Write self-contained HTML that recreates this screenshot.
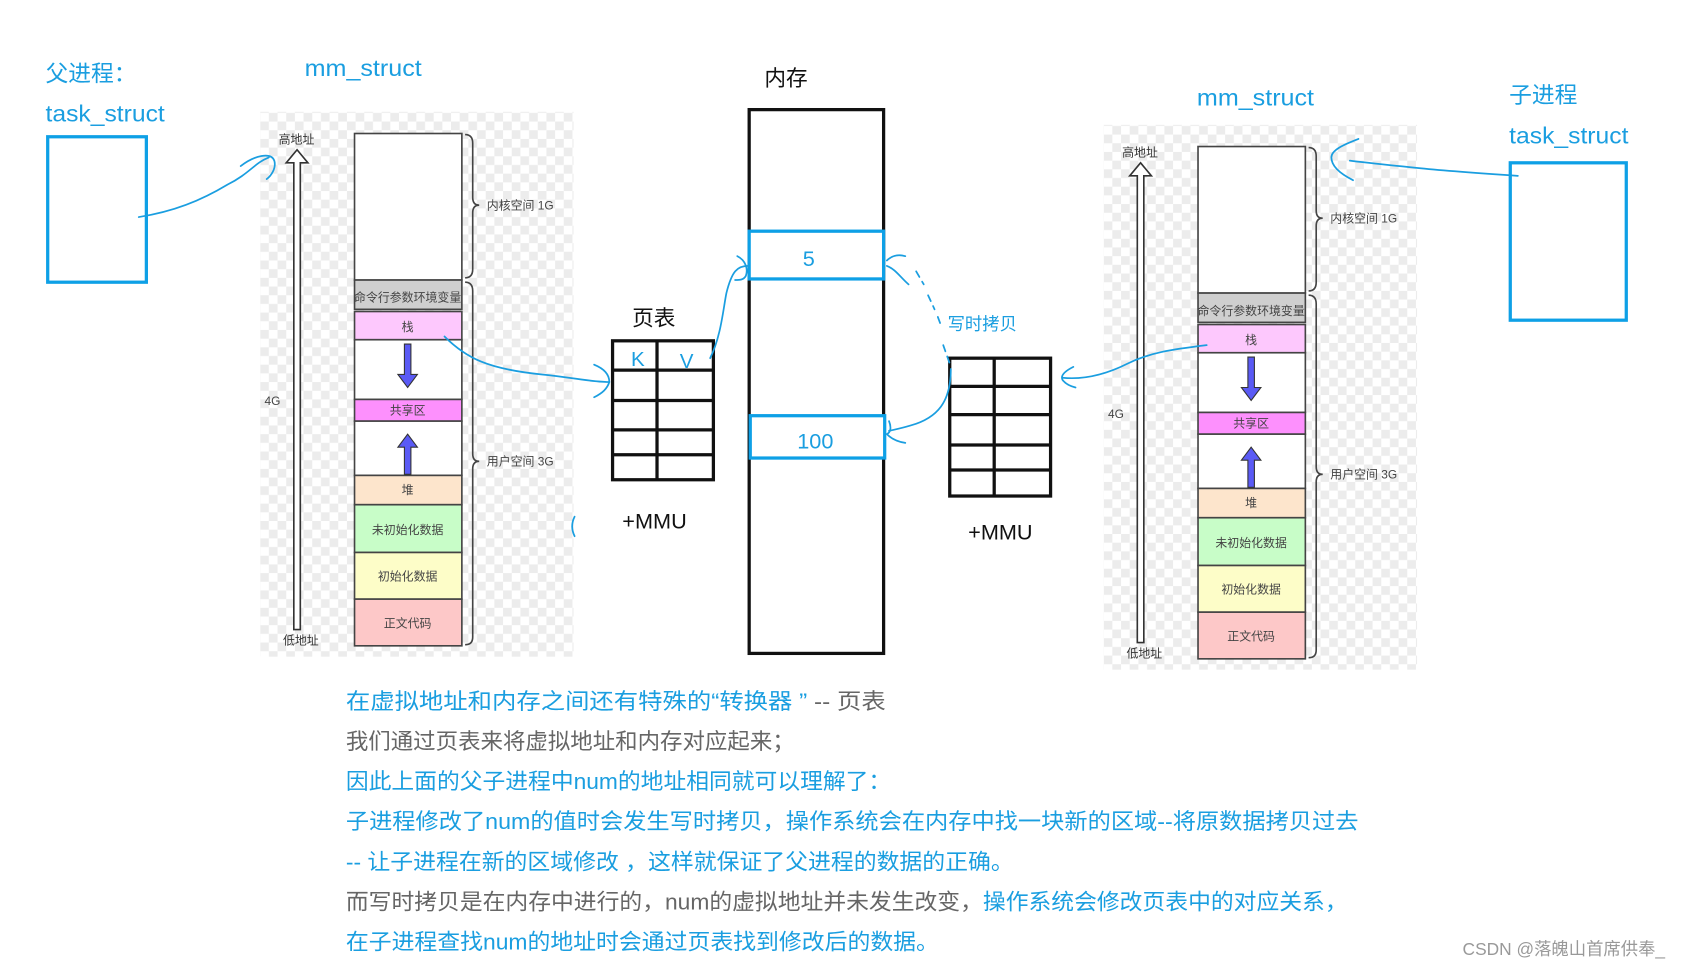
<!DOCTYPE html>
<html><head><meta charset="utf-8"><style>
html,body{margin:0;padding:0;background:#fff;}
svg{display:block;}
text{font-family:"Liberation Sans","Noto Sans CJK SC",sans-serif;}
</style></head><body>
<svg width="1700" height="966" viewBox="0 0 1568 890" preserveAspectRatio="none" xmlns="http://www.w3.org/2000/svg">
<defs>
<pattern id="chk" x="0" y="0" width="16" height="16" patternUnits="userSpaceOnUse">
<rect width="16" height="16" fill="#fff"/><rect width="8" height="8" fill="#ececec"/><rect x="8" y="8" width="8" height="8" fill="#ececec"/>
</pattern>
<g id="mm">
<rect x="240" y="103" width="289" height="502" fill="url(#chk)"/>
<path d="M271 580 L271 150 L264 150 L274 138 L284 150 L277 150 L277 580 Z" fill="#fff" stroke="#333" stroke-width="1.5"/>
<text x="257" y="132" font-size="11" fill="#333">高地址</text>
<text x="244" y="373" font-size="11" fill="#444">4G</text>
<text x="261" y="594" font-size="11" fill="#333">低地址</text>
<g stroke="#444" stroke-width="1.5">
<rect x="327" y="123" width="99" height="135" fill="#fff"/>
<rect x="327" y="258" width="99" height="27" fill="#cfcfcf"/>
<rect x="327" y="287" width="99" height="26" fill="#fdc8fd"/>
<rect x="327" y="313" width="99" height="55" fill="#fff"/>
<rect x="327" y="368" width="99" height="20" fill="#fd90fd"/>
<rect x="327" y="388" width="99" height="50" fill="#fff"/>
<rect x="327" y="438" width="99" height="27" fill="#fde5cc"/>
<rect x="327" y="465" width="99" height="44" fill="#c8fdc8"/>
<rect x="327" y="509" width="99" height="43" fill="#fdfdc8"/>
<rect x="327" y="552" width="99" height="43" fill="#fdc8c8"/>
</g>
<g font-size="11" fill="#444" text-anchor="middle">
<text x="376" y="278">命令行参数环境变量</text>
<text x="376" y="305">栈</text>
<text x="376" y="382">共享区</text>
<text x="376" y="455">堆</text>
<text x="376" y="492">未初始化数据</text>
<text x="376" y="535">初始化数据</text>
<text x="376" y="578">正文代码</text>
</g>
<path d="M373 317 L379 317 L379 345 L385 345 L376 357 L367 345 L373 345 Z" fill="#5a5af5" stroke="#333" stroke-width="1"/>
<path d="M373 437 L379 437 L379 412 L385 412 L376 400 L367 412 L373 412 Z" fill="#5a5af5" stroke="#333" stroke-width="1"/>
<g fill="none" stroke="#444" stroke-width="1.5">
<path d="M429 124 Q436 124 436 132 L436 182 Q436 189 442 189 Q436 189 436 196 L436 248 Q436 256 429 256"/>
<path d="M429 260 Q436 260 436 268 L436 418 Q436 425 442 425 Q436 425 436 432 L436 587 Q436 594 429 594"/>
</g>
<text x="449" y="193" font-size="11" fill="#444">内核空间 1G</text>
<text x="449" y="429" font-size="11" fill="#444">用户空间 3G</text>
</g>
</defs>

<use href="#mm"/>
<use href="#mm" transform="translate(778,12)"/>

<g fill="#1a9ee0" font-size="21">
<text x="42" y="75">父进程：</text>
<text x="42" y="112" textLength="110" lengthAdjust="spacingAndGlyphs">task_struct</text>
<text x="281" y="70" textLength="108" lengthAdjust="spacingAndGlyphs">mm_struct</text>
<text x="1104" y="97" textLength="108" lengthAdjust="spacingAndGlyphs">mm_struct</text>
<text x="1392" y="95">子进程</text>
<text x="1392" y="132" textLength="110" lengthAdjust="spacingAndGlyphs">task_struct</text>
</g>
<rect x="44" y="126" width="91" height="134" fill="none" stroke="#0ea0e6" stroke-width="3"/>
<rect x="1393" y="150" width="107" height="145" fill="none" stroke="#0ea0e6" stroke-width="3"/>

<text x="705" y="79" font-size="20" fill="#111">内存</text>
<rect x="691" y="101" width="124" height="501" fill="#fff" stroke="#111" stroke-width="3"/>
<rect x="691" y="213" width="124" height="44" fill="#fff" stroke="#0ea0e6" stroke-width="3"/>
<text x="746" y="245" font-size="20" fill="#1a9ee0" text-anchor="middle">5</text>
<rect x="692" y="383" width="124" height="39" fill="#fff" stroke="#0ea0e6" stroke-width="3"/>
<text x="752" y="413" font-size="20" fill="#1a9ee0" text-anchor="middle">100</text>

<text x="583" y="300" font-size="20" fill="#111">页表</text>
<g fill="none" stroke="#111" stroke-width="3">
<rect x="565" y="314" width="93" height="128"/>
<line x1="606" y1="314" x2="606" y2="442"/>
<line x1="565" y1="341" x2="658" y2="341"/>
<line x1="565" y1="369" x2="658" y2="369"/>
<line x1="565" y1="396" x2="658" y2="396"/>
<line x1="565" y1="419" x2="658" y2="419"/>
</g>
<text x="582" y="337" font-size="19" fill="#1a9ee0">K</text>
<text x="627" y="339" font-size="19" fill="#1a9ee0">V</text>
<text x="574" y="487" font-size="20" fill="#111">+MMU</text>

<g fill="none" stroke="#111" stroke-width="3">
<rect x="876" y="330" width="93" height="127"/>
<line x1="917" y1="330" x2="917" y2="457"/>
<line x1="876" y1="356" x2="969" y2="356"/>
<line x1="876" y1="382" x2="969" y2="382"/>
<line x1="876" y1="410" x2="969" y2="410"/>
<line x1="876" y1="433" x2="969" y2="433"/>
</g>
<text x="893" y="497" font-size="20" fill="#111">+MMU</text>
<text x="874" y="304" font-size="16" fill="#1a9ee0">写时拷贝</text>

<g fill="none" stroke="#1a9ee0" stroke-width="1.6" stroke-linecap="round">
<path d="M128 200 C160 195 185 185 210 170 C230 160 235 150 248 145"/>
<path d="M222 153 C235 143 250 140 253 148 C255 155 250 162 246 165"/>
<path d="M410 310 C430 330 450 340 500 345 C530 348 545 352 562 352"/>
<path d="M548 336 C558 340 562 346 562 352 C560 358 556 362 548 366"/>
<path d="M530 476 C527 482 527 488 530 494"/>
<path d="M655 330 C665 310 667 285 670 270 C675 250 680 245 690 245"/>
<path d="M680 236 C688 240 690 248 688 254 C686 258 682 258 678 258"/>
<path d="M818 245 C826 248 830 255 838 262"/>
<path d="M818 240 C822 236 828 234 835 236"/>
<path d="M845 250 L852 262 M856 272 L862 285 M865 292 L868 300 M870 318 L876 335" stroke-dasharray="6 5"/>
<path d="M877 340 C877 370 865 385 840 392 C830 395 824 396 820 397"/>
<path d="M820 388 C822 393 822 398 818 400 C822 404 828 407 835 408"/>
<path d="M1113 318 C1080 322 1060 325 1040 335 C1020 345 1000 350 980 348"/>
<path d="M990 338 C982 342 978 346 980 350 C983 354 988 356 992 357"/>
<path d="M1400 162 C1370 160 1340 158 1310 155 C1280 152 1260 150 1245 148"/>
<path d="M1253 128 C1240 133 1228 138 1228 145 C1228 155 1240 162 1248 166"/>
</g>

<g font-size="20.5">
<text x="319" y="653" textLength="498" lengthAdjust="spacingAndGlyphs"><tspan fill="#1a9ee0">在虚拟地址和内存之间还有特殊的“转换器 ” </tspan><tspan fill="#666">-- 页表</tspan></text>
<text x="319" y="690" fill="#666" textLength="414" lengthAdjust="spacingAndGlyphs">我们通过页表来将虚拟地址和内存对应起来；</text>
<text x="319" y="727" fill="#1a9ee0" textLength="503" lengthAdjust="spacingAndGlyphs">因此上面的父子进程中num的地址相同就可以理解了：</text>
<text x="319" y="764" fill="#1a9ee0" textLength="934" lengthAdjust="spacingAndGlyphs">子进程修改了num的值时会发生写时拷贝，操作系统会在内存中找一块新的区域--将原数据拷贝过去</text>
<text x="319" y="801" fill="#1a9ee0" textLength="616" lengthAdjust="spacingAndGlyphs">-- 让子进程在新的区域修改 ，这样就保证了父进程的数据的正确。</text>
<text x="319" y="838" textLength="924" lengthAdjust="spacingAndGlyphs"><tspan fill="#666">而写时拷贝是在内存中进行的，num的虚拟地址并未发生改变，</tspan><tspan fill="#1a9ee0">操作系统会修改页表中的对应关系，</tspan></text>
<text x="319" y="875" fill="#1a9ee0" textLength="547" lengthAdjust="spacingAndGlyphs">在子进程查找num的地址时会通过页表找到修改后的数据。</text>
</g>
<text x="1349" y="880" font-size="16" fill="#999">CSDN @落魄山首席供奉_</text>
</svg>
</body></html>
